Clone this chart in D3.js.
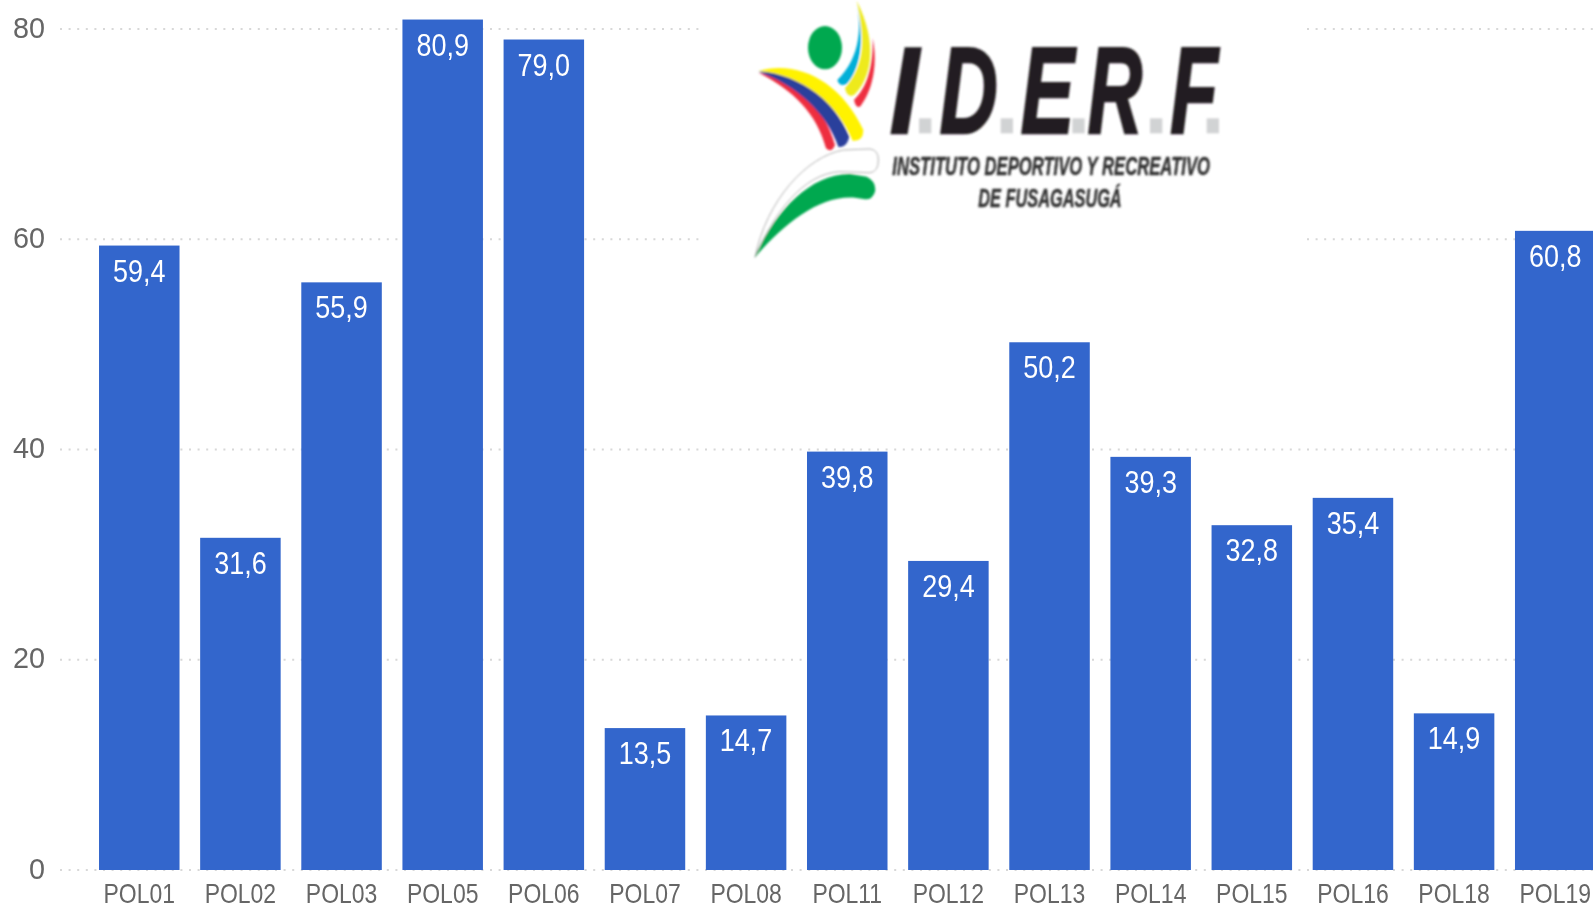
<!DOCTYPE html>
<html>
<head>
<meta charset="utf-8">
<script src="https://cdn.jsdelivr.net/npm/d3@7"></script>
<style>
html, body { margin: 0; padding: 0; background: #fff; overflow: hidden; }
svg { display: block; filter: blur(0.5px); }
.y-axis text, .x-axis text { font-family: "Liberation Sans", sans-serif; fill: #666; }
.y-axis text { font-size: 30px; }
.x-axis text { font-size: 28px; }
.bar-label { font-family: "Liberation Sans", sans-serif; font-size: 31px; fill: #fff; text-anchor: middle; }
.grid line { stroke: #d8d8d8; stroke-width: 2; stroke-dasharray: 2 6.6; }
.logo text { font-family: "Liberation Sans", sans-serif; font-weight: bold; font-style: italic; }
</style>
</head>
<body>
<div id="chart"></div>
<script>
const categories = ["POL01", "POL02", "POL03", "POL05", "POL06", "POL07", "POL08", "POL11", "POL12", "POL13", "POL14", "POL15", "POL16", "POL18", "POL19"];
const values = [59.4, 31.6, 55.9, 80.9, 79.0, 13.5, 14.7, 39.8, 29.4, 50.2, 39.3, 32.8, 35.4, 14.9, 60.8];
const yTicks = [0, 20, 40, 60, 80];

const width = 1593;
const height = 904;

const svg = d3.select("#chart").append("svg")
	.attr("width", width)
	.attr("height", height);

const xScale = d3.scaleBand()
	.domain(categories)
	.range([88.7, 1605.8])
	.paddingInner(0.204)
	.paddingOuter(0.102);
const yScale = d3.scaleLinear()
	.domain([0, 80])
	.range([870, 29]);

const commaFormat = d3.formatLocale({decimal: ",", thousands: ".", grouping: [3], currency: ["", ""]}).format(".1f");

// dotted gridlines, they sit under the bars and the logo
svg.append("g")
	.attr("class", "grid")
	.selectAll("line")
	.data(yTicks)
	.join("line")
	.attr("x1", 60)
	.attr("x2", width)
	.attr("y1", d => yScale(d))
	.attr("y2", d => yScale(d));

const yAxis = svg.append("g")
	.attr("class", "y-axis")
	.attr("transform", "translate(45, 0)")
	.call(d3.axisLeft(yScale).tickValues(yTicks).tickSize(0).tickPadding(0));
yAxis.select(".domain").remove();
// the source picture is stretched, so the text is squeezed sideways
yAxis.selectAll("text").attr("dy", "0.27em").attr("transform", "scale(0.96, 1)");

const xAxis = svg.append("g")
	.attr("class", "x-axis")
	.attr("transform", "translate(0, 870)")
	.call(d3.axisBottom(xScale).tickSize(0).tickPadding(0));
xAxis.select(".domain").remove();
xAxis.selectAll("text").attr("y", 33).attr("dy", 0).attr("transform", "scale(0.82, 1)");

// logo block covers the gridlines behind it
svg.append("rect")
	.attr("x", 701)
	.attr("y", 0)
	.attr("width", 602)
	.attr("height", 262)
	.attr("fill", "#fff");

const defs = svg.append("defs");
defs.append("filter").attr("id", "soft")
	.append("feGaussianBlur").attr("stdDeviation", 2.5);

// logo shapes are traced in the 3x crop coordinates
const logo = svg.append("g")
	.attr("class", "logo")
	.attr("transform", `translate(730, 0) scale(${1 / 3})`)
	.attr("filter", "url(#soft)");

const logoShapes = [
	{d: "M75,772 C110,600 230,470 340,450 L420,447 Q445,450 445,480 Q445,515 420,518 L330,515 C220,520 130,640 75,772 Z", fill: "#fff", stroke: "#aaa"},
	{d: "M75,772 C130,640 240,520 360,522 L410,530 Q440,545 435,575 Q425,603 400,597 C290,570 170,660 75,772 Z", fill: "#00a84f"},
	{d: "M428,115 C445,200 425,275 392,318 Q378,328 372,300 C410,265 430,200 428,115 Z", fill: "#ee2e3f"},
	{d: "M380,3 C410,130 400,200 345,265 Q352,295 372,285 C425,235 445,130 380,3 Z", fill: "#eeea1c"},
	{d: "M378,3 C395,70 395,170 322,240 Q328,262 350,252 C385,215 410,130 378,3 Z", fill: "#00afd8"},
	{d: "M85,218 C190,240 280,310 315,435 Q305,460 288,445 C260,340 190,270 85,218 Z", fill: "#ee2e3f"},
	{d: "M85,215 C190,205 310,290 358,410 Q350,445 325,440 C290,340 200,255 85,215 Z", fill: "#2b3f9c"},
	{d: "M85,213 C200,180 330,240 400,390 Q400,425 368,422 C320,310 220,225 85,213 Z", fill: "#fff200"}
];
logo.selectAll("path")
	.data(logoShapes)
	.join("path")
	.attr("d", d => d.d)
	.attr("fill", d => d.fill)
	.attr("stroke", d => d.stroke || "none")
	.attr("stroke-width", 3);
logo.append("ellipse")
	.attr("cx", 285).attr("cy", 143)
	.attr("rx", 51).attr("ry", 65)
	.attr("fill", "#00a84f");

const logoDots = [567, 812, 1027, 1260, 1430];
logo.selectAll("rect.dot")
	.data(logoDots)
	.join("rect")
	.attr("class", "dot")
	.attr("x", d => d)
	.attr("y", 355)
	.attr("width", 37)
	.attr("height", 45)
	.attr("fill", "#d1d3d4");

const logoLetters = [
	{t: "I", x: 480, sx: 0.85},
	{t: "D", x: 629, sx: 0.66},
	{t: "E", x: 872, sx: 0.66},
	{t: "R", x: 1073, sx: 0.62},
	{t: "F", x: 1321, sx: 0.64}
];
logo.selectAll("text.letter")
	.data(logoLetters)
	.join("text")
	.attr("class", "letter")
	.attr("transform", d => `translate(${d.x}, 400) scale(${d.sx}, 1)`)
	.attr("font-size", 365)
	.attr("fill", "#231f20")
	.attr("stroke", "#231f20")
	.attr("stroke-width", 8)
	.text(d => d.t);

logo.append("text")
	.attr("x", 487).attr("y", 525)
	.attr("font-size", 76)
	.attr("fill", "#333")
	.attr("stroke", "#333")
	.attr("stroke-width", 1.5)
	.attr("textLength", 953)
	.attr("lengthAdjust", "spacingAndGlyphs")
	.text("INSTITUTO DEPORTIVO Y RECREATIVO");
logo.append("text")
	.attr("x", 745).attr("y", 620)
	.attr("font-size", 76)
	.attr("fill", "#333")
	.attr("stroke", "#333")
	.attr("stroke-width", 1.5)
	.attr("textLength", 430)
	.attr("lengthAdjust", "spacingAndGlyphs")
	.text("DE FUSAGASUGÁ");

const data = categories.map((c, i) => ({name: c, value: values[i]}));

svg.append("g")
	.attr("class", "bars")
	.selectAll("rect")
	.data(data)
	.join("rect")
	.attr("x", d => xScale(d.name))
	.attr("y", d => yScale(d.value))
	.attr("width", xScale.bandwidth())
	.attr("height", d => yScale(0) - yScale(d.value))
	.attr("fill", "#3366cc");

svg.append("g")
	.attr("class", "labels")
	.selectAll("text")
	.data(data)
	.join("text")
	.attr("class", "bar-label")
	.attr("transform", d => `translate(${xScale(d.name) + xScale.bandwidth() / 2}, ${yScale(d.value) + 36}) scale(0.87, 1)`)
	.text(d => commaFormat(d.value));
</script>
</body>
</html>
